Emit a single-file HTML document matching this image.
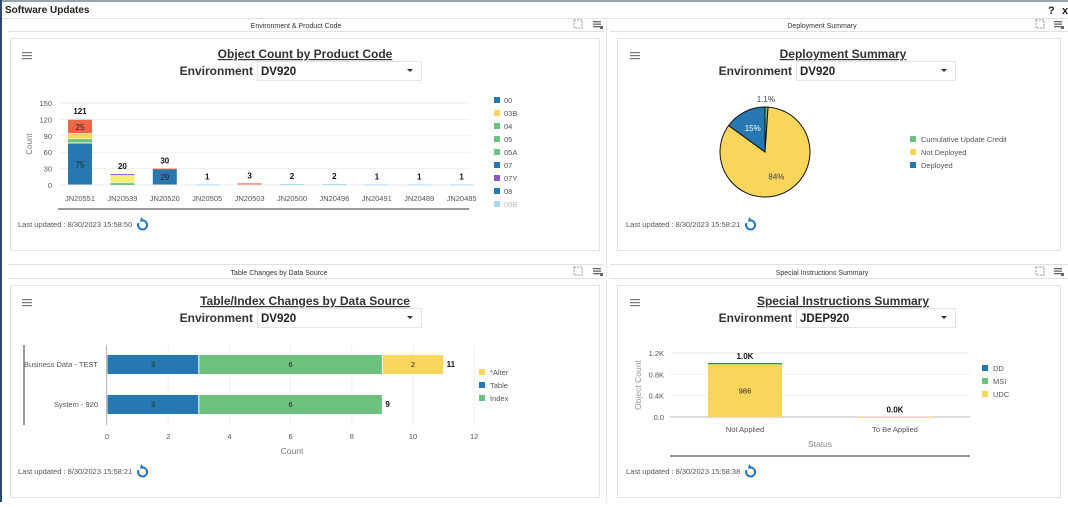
<!DOCTYPE html>
<html><head><meta charset="utf-8">
<style>
html,body{margin:0;padding:0;background:#fff;}
body{width:1068px;height:502px;overflow:hidden;font-family:"Liberation Sans",sans-serif;}
svg text{font-family:"Liberation Sans",sans-serif;}
</style></head>
<body>
<svg id="s" width="1068" height="502" viewBox="0 0 1068 502" xmlns="http://www.w3.org/2000/svg">
<rect x="0" y="0" width="1068" height="502" fill="#fff"/>
<rect x="0" y="0" width="1068" height="2" fill="#9aa4ae"/>
<rect x="0" y="0" width="2" height="502" fill="#2a4a6e"/>
<text x="5" y="13" font-size="10" font-weight="bold" fill="#222">Software Updates</text>
<text x="1048" y="14" font-size="11" font-weight="bold" fill="#222">?</text>
<text x="1062" y="14" font-size="11" font-weight="bold" fill="#222">x</text>
<rect x="2" y="18" width="1066" height="1" fill="#dde2e6"/>

<g>
<rect x="8" y="31" width="596" height="1" fill="#dde2e6"/>
<text x="296" y="28" font-size="7" text-anchor="middle" fill="#333">Environment &amp; Product Code</text></g>
<g>
<rect x="610" y="31" width="458" height="1" fill="#dde2e6"/>
<text x="822" y="28" font-size="7" text-anchor="middle" fill="#333">Deployment Summary</text></g>
<g>
<rect x="8" y="264" width="596" height="1" fill="#dde2e6"/><rect x="8" y="278" width="596" height="1" fill="#dde2e6"/>
<text x="279" y="275" font-size="7" text-anchor="middle" fill="#333">Table Changes by Data Source</text></g>
<g>
<rect x="610" y="264" width="458" height="1" fill="#dde2e6"/><rect x="610" y="278" width="458" height="1" fill="#dde2e6"/>
<text x="822" y="275" font-size="7" text-anchor="middle" fill="#333">Special Instructions Summary</text></g>
<rect x="606" y="19" width="1" height="483" fill="#e6e9ec"/>

<rect x="10.5" y="38.5" width="589" height="212" fill="none" stroke="#dfe3e6"/>
<rect x="617.5" y="38.5" width="443" height="212" fill="none" stroke="#dfe3e6"/>
<rect x="10.5" y="285.5" width="589" height="212" fill="none" stroke="#dfe3e6"/>
<rect x="617.5" y="285.5" width="443" height="212" fill="none" stroke="#dfe3e6"/>

<g id="chrome"></g>
<g id="c1"></g><g id="c2"></g><g id="c3"></g><g id="c4"></g>
</svg>
<script>
// ---- Chart 1 data: Object Count by Product Code ----
const c1Categories = ["JN20551","JN20539","JN20520","JN20505","JN20503","JN20500","JN20496","JN20491","JN20489","JN20485"];
const c1Series = ["00","04","05","03B","03C","07Y","07","09","08B"];
const c1s00  = [75,0,0,0,0,0,0,0,0,0];
const c1s04  = [2,2,0,0,0,0,0,0,0,0];
const c1s05  = [7,2,0,0,0,0,0,0,0,0];
const c1s03B = [10,0,0,0,0,0,0,0,0,0];
const c1s03C = [0,15,0,0,0,0,0,0,0,0];
const c1s07Y = [0,1,0,0,0,0,0,0,0,0];
const c1s07  = [0,0,29,0,0,0,0,0,0,0];
const c1s09  = [25,0,1,0,3,0,0,0,0,0];
const c1s08B = [2,0,0,1,0,2,2,1,1,1];
const c1Totals = [121,20,30,1,3,2,2,1,1,1];
const c1Ticks = [0,30,60,90,120,150];
const c1Legend = ["00","03B","04","05","05A","07","07Y","08","08B"];
// ---- Chart 2 data: Deployment pie ----
const c2Labels = ["Cumulative Update Credit","Not Deployed","Deployed"];
const c2Values = [1.1,84,15];
const c2Text = ["1.1%","84%","15%"];
// ---- Chart 3 data: Table/Index changes ----
const c3Categories = ["Business Data - TEST","System - 920"];
const c3Table = [3,3];
const c3Index = [6,6];
const c3Alter = [2,0];
const c3Ticks = [0,2,4,6,8,10,12];
// ---- Chart 4 data: Special Instructions ----
const c4Categories = ["Not Applied","To Be Applied"];
const c4UDC = [986,5];
const c4MSI = [22,0];
const c4DD = [4,0];
const c4Totals = ["1.0K","0.0K"];
const c4Ticks = [0,400,800,1200];
const c4TickLabels = ["0.0","0.4K","0.8K","1.2K"];

const NS="http://www.w3.org/2000/svg";
function mk(parent,tag,attrs,txt){const e=document.createElementNS(NS,tag);for(const k in attrs)e.setAttribute(k,attrs[k]);if(txt!==undefined)e.textContent=txt;parent.appendChild(e);return e;}
const BLUE="#2778b0",GREEN="#6cc17f",YEL="#fad55c",RED="#ed6647",PUR="#8a5acd",LYEL="#f6ef78",LBLUE="#a8d8f3";

const ch=document.getElementById('chrome');
function card(x,cx,y,title,env,selX,selW,upd,name,stamp){
  const m=mk(ch,'g',{});
  
  
  for(let i=0;i<3;i++) mk(m,'rect',{x:x,y:y-2+i*3,width:10,height:1.2,fill:'#777'});
  const t=mk(ch,'text',{x:cx,y:y+4,'font-size':12,'font-weight':'bold','text-anchor':'middle','text-decoration':'underline',fill:'#333'},title);
  
  
  const l=mk(ch,'text',{x:selX-4,y:y+21,'font-size':12,'font-weight':'bold','text-anchor':'end',fill:'#333'},'Environment');
  
  
  const s=mk(ch,'g',{});
  
  
  mk(s,'rect',{x:selX+0.5,y:y+7.5,width:selW,height:19,fill:'#fff',stroke:'#e2e4e6'});
  mk(s,'text',{x:selX+4,y:y+21,'font-size':11.5,'font-weight':'bold',fill:'#222'},env);
  mk(s,'path',{d:`M${selX+selW-14} ${y+15} l6 0 l-3 3 z`,fill:'#333'});
  const u=mk(ch,'text',{x:x-4,y:upd,'font-size':7.5,fill:'#555'},'Last updated : '+stamp);
  
  
  const r=mk(ch,'g',{});
  
  
  const rx=x+120, ry=upd-2;
  mk(r,'path',{d:`M${rx-3.5} ${ry-2} A4.5 4.5 0 1 0 ${rx} ${ry-4.5}`,fill:'none',stroke:'#1f74c4','stroke-width':2});
  mk(r,'path',{d:`M${rx-1} ${ry-8} l3 3.5 l-4 1.5 z`,fill:'#1f74c4'});
}
card(22,305,54,'Object Count by Product Code','DV920',257,164,227,'object-count','8/30/2023 15:58:50');
card(630,843,54,'Deployment Summary','DV920',796,159,227,'deployment','8/30/2023 15:58:21');
card(22,305,301,'Table/Index Changes by Data Source','DV920',257,164,474,'table-changes','8/30/2023 15:58:21');
card(630,843,301,'Special Instructions Summary','JDEP920',796,159,474,'special-instructions','8/30/2023 15:58:38');
[[578,24],[597,24],[1040,24],[1058,24],[578,271],[597,271],[1040,271],[1058,271]].forEach((p,i)=>{
  const g=mk(ch,'g',{});
  
  
  if(i%2){for(let k=0;k<3;k++)mk(g,'rect',{x:p[0]-4,y:p[1]-3+k*2.5,width:8,height:1.3,fill:'#666'});mk(g,'rect',{x:p[0]+3,y:p[1]+2,width:3,height:3,fill:'#666'});}
  else mk(g,'rect',{x:p[0]-4,y:p[1]-4,width:8,height:8,fill:'none',stroke:'#999','stroke-dasharray':'2 1'});
});

// ---- Chart 1 ----
(function(){
  const g=document.getElementById('c1');
  const y0=185,yTop=103,vmax=150;
  const Y=v=>y0-(v/vmax)*(y0-yTop);
  const step=42.4,x0=80,bw=24;
  const X=i=>x0+i*step;
  c1Ticks.forEach(t=>{
    mk(g,'line',{x1:60,x2:470,y1:Y(t),y2:Y(t),stroke:'#eee'});
    const tl=mk(g,'text',{x:52,y:Y(t)+3,'font-size':7.5,'text-anchor':'end',fill:'#555'},t);
    
    
  });
  const yt=mk(g,'text',{x:32,y:144,'font-size':8,'text-anchor':'middle',fill:'#777',transform:'rotate(-90 32 144)'},'Count');
  
  
  const series=[[c1s00,BLUE],[c1s04,GREEN],[c1s05,GREEN],[c1s03B,YEL],[c1s03C,LYEL],[c1s07Y,PUR],[c1s07,BLUE],[c1s09,RED],[c1s08B,LBLUE]];
  c1Categories.forEach((c,i)=>{
    let acc=0;
    series.forEach(([arr,col],si)=>{
      const v=arr[i]; if(!v) return;
      const r=mk(g,'rect',{x:X(i)-bw/2,y:Y(acc+v),width:bw,height:Math.max(Y(acc)-Y(acc+v)-0.5,1),fill:col});
      
      
      if(v>=20){mk(g,'text',{x:X(i),y:(Y(acc)+Y(acc+v))/2+3,'font-size':8,'text-anchor':'middle',fill:'#222'},v);}
      acc+=v;
    });
    const tt=mk(g,'text',{x:X(i),y:Y(c1Totals[i])-5,'font-size':8,'font-weight':'bold','text-anchor':'middle',fill:'#111'},c1Totals[i]);
    
    
    const cl=mk(g,'text',{x:X(i),y:201,'font-size':7.5,'text-anchor':'middle',fill:'#555'},c);
    
    
  });
  mk(g,'rect',{x:58,y:208,width:411,height:2,fill:'#999'});
  const lc=[BLUE,YEL,GREEN,GREEN,GREEN,BLUE,PUR,BLUE,LBLUE];
  c1Legend.forEach((l,i)=>{
    const e=mk(g,'g',{});
    
    
    mk(e,'rect',{x:494,y:97+i*13,width:6,height:6,fill:lc[i]});
    mk(e,'text',{x:504,y:103+i*13,'font-size':7.5,fill:i===8?'#bbb':'#555'},l);
  });
})();

// ---- Chart 2 pie ----
(function(){
  const g=document.getElementById('c2');
  const cx=765,cy=152,r=45;
  const cols=[GREEN,YEL,BLUE];
  const tot=c2Values.reduce((a,b)=>a+b,0);
  let a=0;
  c2Values.forEach((v,i)=>{
    const a1=a, a2=a+v/tot*2*Math.PI;
    const p=(t)=>[cx+r*Math.sin(t),cy-r*Math.cos(t)];
    const [x1,y1]=p(a1),[x2,y2]=p(a2);
    const s=mk(g,'path',{d:`M${cx} ${cy} L${x1} ${y1} A${r} ${r} 0 ${a2-a1>Math.PI?1:0} 1 ${x2} ${y2} Z`,fill:cols[i],stroke:'#111','stroke-width':1});
    
    
    const m=(a1+a2)/2, lr=i===0?r+8:r*0.6;
    mk(g,'text',{x:cx+lr*Math.sin(m)+(i===0?-1:0),y:cy-lr*Math.cos(m)+3,'font-size':8,'text-anchor':'middle',fill:i===2?'#fff':'#444'},c2Text[i]);
    a=a2;
  });
  c2Labels.forEach((l,i)=>{
    const e=mk(g,'g',{});
    
    
    mk(e,'rect',{x:910,y:136+i*13,width:6,height:6,fill:cols[i]});
    mk(e,'text',{x:921,y:142+i*13,'font-size':7.5,fill:'#555'},l);
  });
})();

// ---- Chart 3 horizontal stacked ----
(function(){
  const g=document.getElementById('c3');
  const x0=107,pxu=30.6;
  const X=v=>x0+v*pxu;
  c3Ticks.forEach(t=>{
    mk(g,'line',{x1:X(t),x2:X(t),y1:345,y2:425,stroke:'#eee'});
    const tl=mk(g,'text',{x:X(t),y:439,'font-size':7.5,'text-anchor':'middle',fill:'#555'},t);
    
    
  });
  mk(g,'rect',{x:23,y:345,width:2,height:80,fill:'#999'});
  mk(g,'rect',{x:106,y:345,width:1,height:80,fill:'#bbb'});
  const xt=mk(g,'text',{x:292,y:454,'font-size':8.5,'text-anchor':'middle',fill:'#777'},'Count');
  
  
  const rows=[355,395];
  c3Categories.forEach((c,i)=>{
    const yl=mk(g,'text',{x:98,y:rows[i]+12,'font-size':7.5,'text-anchor':'end',fill:'#555'},c);
    
    
    let acc=0;
    [[c3Table,BLUE,'table'],[c3Index,GREEN,'index'],[c3Alter,YEL,'alter']].forEach(([arr,col,n])=>{
      const v=arr[i]; if(!v) return;
      const r=mk(g,'rect',{x:X(acc)+0.5,y:rows[i],width:X(acc+v)-X(acc)-1,height:19,fill:col});
      
      
      mk(g,'text',{x:(X(acc)+X(acc+v))/2,y:rows[i]+12,'font-size':7.5,'text-anchor':'middle',fill:'#222'},v);
      acc+=v;
    });
    mk(g,'text',{x:X(acc)+3,y:rows[i]+12,'font-size':8,'font-weight':'bold',fill:'#111'},acc);
  });
  [["*Alter",YEL],["Table",BLUE],["Index",GREEN]].forEach(([l,c],i)=>{
    const e=mk(g,'g',{});
    
    
    mk(e,'rect',{x:479,y:369+i*13,width:6,height:6,fill:c});
    mk(e,'text',{x:490,y:375+i*13,'font-size':7.5,fill:'#555'},l);
  });
})();

// ---- Chart 4 stacked column ----
(function(){
  const g=document.getElementById('c4');
  const y0=417,yTop=353,vmax=1200;
  const Y=v=>y0-(v/vmax)*(y0-yTop);
  const cx=[745,895],bw=74;
  c4Ticks.forEach((t,i)=>{
    mk(g,'line',{x1:670,x2:970,y1:Y(t),y2:Y(t),stroke:i?'#eee':'#bbb'});
    const tl=mk(g,'text',{x:664,y:Y(t)+3,'font-size':7.5,'text-anchor':'end',fill:'#555'},c4TickLabels[i]);
    
    
  });
  const yt=mk(g,'text',{x:641,y:385,'font-size':8.5,'text-anchor':'middle',fill:'#999',transform:'rotate(-90 641 385)'},'Object Count');
  
  
  c4Categories.forEach((c,i)=>{
    let acc=0;
    [[c4UDC,YEL,'udc'],[c4MSI,GREEN,'msi'],[c4DD,BLUE,'dd']].forEach(([arr,col,n])=>{
      const v=arr[i]; if(!v) return;
      const r=mk(g,'rect',{x:cx[i]-bw/2,y:Y(acc+v),width:bw,height:Math.max(Y(acc)-Y(acc+v),1),fill:col});
      
      
      if(v>100) mk(g,'text',{x:cx[i],y:(Y(acc)+Y(acc+v))/2+3,'font-size':7.5,'text-anchor':'middle',fill:'#222'},v);
      acc+=v;
    });
    mk(g,'text',{x:cx[i],y:Y(acc)-4,'font-size':8,'font-weight':'bold','text-anchor':'middle',fill:'#111'},c4Totals[i]);
    const cl=mk(g,'text',{x:cx[i],y:432,'font-size':7.5,'text-anchor':'middle',fill:'#555'},c);
    
    
  });
  const xt=mk(g,'text',{x:820,y:447,'font-size':8.5,'text-anchor':'middle',fill:'#888'},'Status');
  
  
  mk(g,'rect',{x:670,y:455,width:300,height:2,fill:'#999'});
  [["DD",BLUE],["MSI",GREEN],["UDC",YEL]].forEach(([l,c],i)=>{
    const e=mk(g,'g',{});
    
    
    mk(e,'rect',{x:982,y:365+i*13,width:6,height:6,fill:c});
    mk(e,'text',{x:993,y:371+i*13,'font-size':7.5,fill:'#555'},l);
  });
})();
</script>
</body></html>
